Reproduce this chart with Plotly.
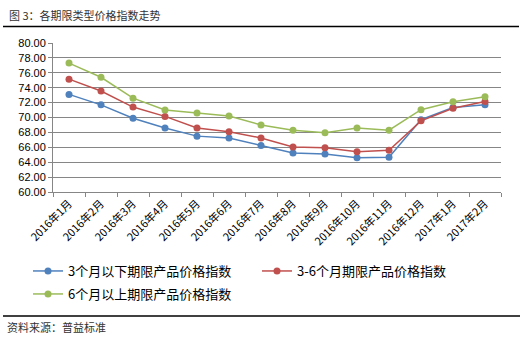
import plotly.graph_objects as go

categories = ["2016年1月", "2016年2月", "2016年3月", "2016年4月", "2016年5月", "2016年6月",
              "2016年7月", "2016年8月", "2016年9月", "2016年10月", "2016年11月", "2016年12月",
              "2017年1月", "2017年2月"]
below_3m = [73.1, 71.7, 69.9, 68.6, 67.5, 67.25, 66.25, 65.25, 65.1, 64.6, 64.65, 69.7, 71.35, 71.7]
m3_6 = [75.15, 73.55, 71.4, 70.15, 68.6, 68.1, 67.25, 66.05, 65.95, 65.4, 65.6, 69.55, 71.25, 72.15]
above_6m = [77.3, 75.4, 72.6, 71.0, 70.6, 70.2, 69.0, 68.3, 67.95, 68.6, 68.3, 71.05, 72.1, 72.8]
names = ["3个月以下期限产品价格指数", "3-6个月期限产品价格指数", "6个月以上期限产品价格指数"]
colors = ["#4F81BD", "#C0504D", "#9BBB59"]
y_ticks = [60 + 2 * i for i in range(11)]

W, H = 527, 338
L, R, T, B = 53, 501, 43, 192  # plot area pixel box

def px(x):
    return (x - L) / (R - L)

def py(y):
    return (B - y) / (B - T)

FONT = "Noto Sans CJK SC, sans-serif"

fig = go.Figure()
for vals, name, col, lg in zip([below_3m, m3_6, above_6m], names, colors, ["legend", "legend2", "legend3"]):
    fig.add_trace(go.Scatter(
        x=categories, y=vals, name=name, mode="lines+markers",
        line=dict(color=col, width=1.5),
        marker=dict(color=col, size=7),
        legend=lg,
    ))

leg_common = dict(xanchor="left", yanchor="top", font=dict(size=13, color="#000000"),
                  bgcolor="rgba(0,0,0,0)", orientation="h")
fig.update_layout(
    width=W, height=H,
    margin=dict(l=L, r=W - R, t=T, b=H - B),
    paper_bgcolor="white", plot_bgcolor="white",
    font=dict(family=FONT, size=11, color="#000000"),
    legend=dict(x=px(28), y=py(256), **leg_common),
    legend2=dict(x=px(257), y=py(256), **leg_common),
    legend3=dict(x=px(28), y=py(279), **leg_common),
    showlegend=True,
)

fig.update_xaxes(
    type="category", range=[-0.5, len(categories) - 0.5],
    tickangle=-45, tickson="boundaries", ticks="outside", ticklen=4, tickcolor="#868686",
    showline=True, linecolor="#868686", linewidth=1, showgrid=False,
    tickfont=dict(family=FONT, size=11, color="#000000"),
)
fig.update_yaxes(
    range=[60, 80], tickvals=y_ticks, ticktext=[f"{v:.2f}" for v in y_ticks],
    ticks="outside", ticklen=4, tickcolor="#868686",
    showline=True, linecolor="#868686", linewidth=1,
    showgrid=True, gridcolor="#868686", gridwidth=1, zeroline=False,
    tickfont=dict(family="Liberation Sans, Arial, sans-serif", size=11, color="#000000"),
)

fig.add_annotation(text="图 3：各期限类型价格指数走势", xref="paper", yref="paper",
                   x=px(7), y=py(15), xanchor="left", yanchor="middle", showarrow=False,
                   font=dict(family=FONT, size=11, color="#333333"))
fig.add_annotation(text="资料来源：普益标准", xref="paper", yref="paper",
                   x=px(5), y=py(327), xanchor="left", yanchor="middle", showarrow=False,
                   font=dict(family=FONT, size=11, color="#333333"))
fig.add_shape(type="line", xref="paper", yref="paper", x0=px(3), x1=px(519), y0=py(26.5), y1=py(26.5),
              line=dict(color="#000000", width=1.5))
fig.add_shape(type="line", xref="paper", yref="paper", x0=px(3), x1=px(520), y0=py(316), y1=py(316),
              line=dict(color="#000000", width=1.5))

fig.write_html("out.html")
